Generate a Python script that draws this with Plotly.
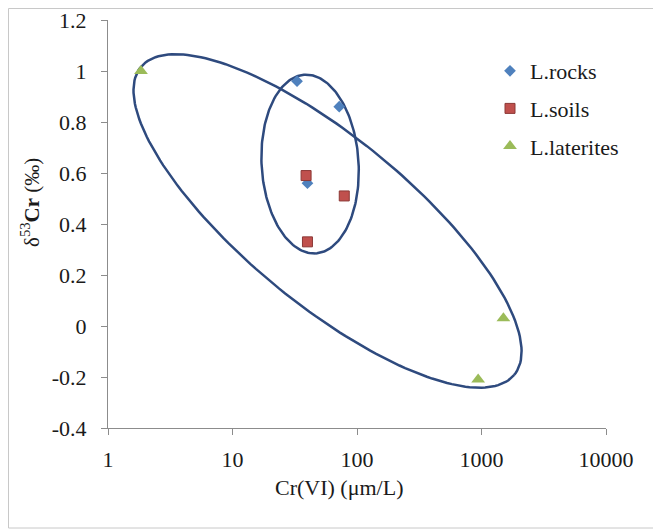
import numpy as np
import plotly.graph_objects as go

# ---- data ----
rocks_x = [33, 72, 40]
rocks_y = [0.96, 0.86, 0.56]
soils_x = [39, 79, 40]
soils_y = [0.59, 0.51, 0.33]
laterites_x = [1.84, 1500, 940]
laterites_y = [1.0, 0.03, -0.21]

y_tickvals = [1.2, 1.0, 0.8, 0.6, 0.4, 0.2, 0.0, -0.2, -0.4]
y_ticktext = ["1.2", "1", "0.8", "0.6", "0.4", "0.2", "0", "-0.2", "-0.4"]
x_tickvals = [1, 10, 100, 1000, 10000]
x_ticktext = ["1", "10", "100", "1000", "10000"]

# ---- layout geometry (page pixels; the page body adds an 8px offset) ----
OFF = 8
W, H = 661, 531
ML, MT = 108 - OFF, 20 - OFF
MR = W - (606 - OFF)
MB = H - (428 - OFF)
PW, PH = W - ML - MR, H - MT - MB
XR = [0, 4]          # log10 range
YR = [-0.4, 1.2]

FONT = "Liberation Serif, Times New Roman, serif"
ELL_COLOR = "#2E4A7E"


def ellipse(cx, cy, a_px, b_px, ang_deg, n=200):
    """Ellipse defined around a data-space centre, semi-axes in screen pixels."""
    t = np.linspace(0, 2 * np.pi, n)
    al = np.radians(ang_deg)
    dx = a_px * np.cos(t) * np.cos(al) - b_px * np.sin(t) * np.sin(al)
    dy = a_px * np.cos(t) * np.sin(al) + b_px * np.sin(t) * np.cos(al)
    lx = np.log10(cx) + dx * (XR[1] - XR[0]) / PW
    yy = cy - dy * (YR[1] - YR[0]) / PH
    return 10 ** lx, yy


fig = go.Figure()

ex, ey = ellipse(58, 0.412, 242, 83, 39.5)
fig.add_trace(go.Scatter(x=ex, y=ey, mode="lines", line=dict(color=ELL_COLOR, width=2.5),
                         showlegend=False, hoverinfo="skip"))
sx, sy = ellipse(42, 0.635, 89.5, 48.5, 86.5)
fig.add_trace(go.Scatter(x=sx, y=sy, mode="lines", line=dict(color=ELL_COLOR, width=2.5),
                         showlegend=False, hoverinfo="skip"))

fig.add_trace(go.Scatter(x=rocks_x, y=rocks_y, mode="markers", name="L.rocks",
                         legendgroup="a",
                         marker=dict(symbol="diamond", size=9, color="#4F81BD",
                                     line=dict(width=0))))
fig.add_trace(go.Scatter(x=soils_x, y=soils_y, mode="markers", name="L.soils",
                         legendgroup="b",
                         marker=dict(symbol="square", size=10, color="#C0504D",
                                     line=dict(width=1, color="#8C3836"))))
fig.add_trace(go.Scatter(x=laterites_x, y=laterites_y, mode="markers", name="L.laterites",
                         legendgroup="c",
                         marker=dict(symbol="triangle-up", size=12, color="#9BBB59",
                                     line=dict(width=0))))


def px2paper(px, py):
    """Page pixel -> paper coordinates."""
    fx, fy = px - OFF, py - OFF
    return (fx - ML) / PW, (H - MB - fy) / PH


# outer frame (left, top, bottom visible)
x0, y0 = px2paper(8.5, 8.5)
x1, y1 = px2paper(720, 528)
fig.add_shape(type="rect", xref="paper", yref="paper", x0=x0, y0=y1, x1=x1, y1=y0,
              line=dict(color="#C8C8C8", width=1), layer="below")

# axis titles
tx, ty = px2paper(339, 488)
fig.add_annotation(x=tx, y=ty, xref="paper", yref="paper", text="Cr(VI) (μm/L)",
                   xanchor="center", yanchor="middle",
                   showarrow=False, font=dict(family=FONT, size=22, color="#1a1a1a"))
tx, ty = px2paper(31, 203)
fig.add_annotation(x=tx, y=ty, xref="paper", yref="paper",
                   text="δ<sup>53</sup><b>Cr</b> (‰)", textangle=-90,
                   xanchor="center", yanchor="middle",
                   showarrow=False, font=dict(family=FONT, size=21, color="#1a1a1a"))

lx, ly = px2paper(490, 50)

fig.update_layout(
    width=W, height=H,
    margin=dict(l=ML, r=MR, t=MT, b=MB, pad=0, autoexpand=False),
    paper_bgcolor="white", plot_bgcolor="white",
    font=dict(family=FONT, size=22, color="#1a1a1a"),
    legend=dict(x=lx, y=ly, xanchor="left", yanchor="top", tracegroupgap=6,
                bgcolor="rgba(0,0,0,0)", font=dict(family=FONT, size=22)),
    xaxis=dict(type="log", range=XR, tickvals=x_tickvals, ticktext=x_ticktext,
               showgrid=False, zeroline=False, showline=True, linecolor="#8C8C8C",
               linewidth=1, ticks="outside", ticklen=6, tickcolor="#8C8C8C",
               ticklabelstandoff=6, automargin=False, ticklabeloverflow="allow"),
    yaxis=dict(range=YR, tickvals=y_tickvals, ticktext=y_ticktext,
               showgrid=False, zeroline=False, showline=True, linecolor="#8C8C8C",
               linewidth=1, ticks="outside", ticklen=6, tickcolor="#8C8C8C",
               ticklabelstandoff=10, automargin=False, ticklabeloverflow="allow"),
)

fig.write_html("out.html")
